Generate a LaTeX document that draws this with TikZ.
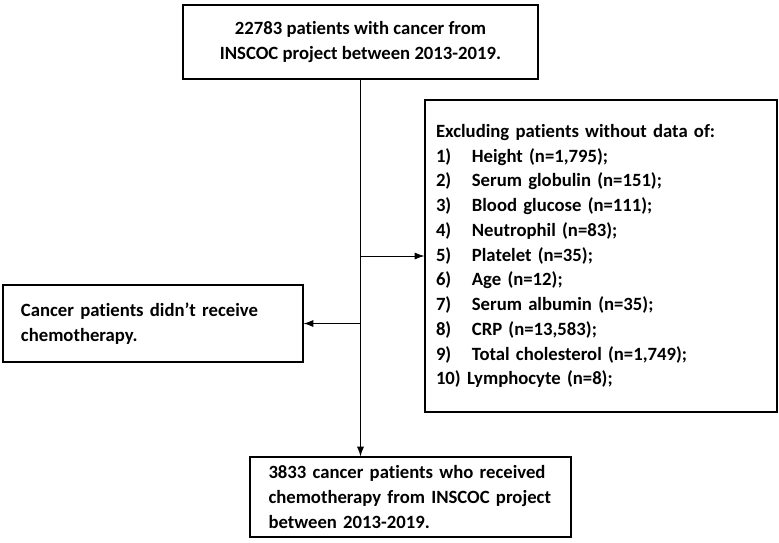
\documentclass[tikz,border=0pt]{standalone}
\usepackage{fontspec}
\setmainfont[Ligatures=NoCommon]{Carlito}
\usetikzlibrary{positioning,arrows.meta}
\tikzset{box/.style={rectangle, draw=black, thick, align=left, inner sep=0pt, anchor=center, font=\bfseries\fontsize{13.3}{17.6}\selectfont},
  line/.style={semithick, -{Latex[length=7pt,width=5pt]}}}
\begin{document}
\begin{tikzpicture}[x=0.025cm,y=-0.025cm]
  \useasboundingbox (0,0) rectangle (779,542);
  \node[box, minimum width=355*0.025cm, minimum height=74*0.025cm, align=center] (top) at (360.5,42) {22783 patients with cancer from\\INSCOC project between 2013-2019.};
  \node[box, minimum width=352*0.025cm, minimum height=312*0.025cm, text width=330*0.025cm] (excl) at (601,256) {Excluding patients without data of:\\
  1)\hspace{1.1em}Height (n=1,795);\\
  2)\hspace{1.1em}Serum globulin (n=151);\\
  3)\hspace{1.1em}Blood glucose (n=111);\\
  4)\hspace{1.1em}Neutrophil (n=83);\\
  5)\hspace{1.1em}Platelet (n=35);\\
  6)\hspace{1.1em}Age (n=12);\\
  7)\hspace{1.1em}Serum albumin (n=35);\\
  8)\hspace{1.1em}CRP (n=13,583);\\
  9)\hspace{1.1em}Total cholesterol (n=1,749);\\
  10) Lymphocyte (n=8);};
  \node[box, minimum width=300*0.025cm, minimum height=77*0.025cm, text width=264*0.025cm] (left) at (153,323.5) {Cancer patients didn't receive\\chemotherapy.};
  \node[box, minimum width=321*0.025cm, minimum height=80*0.025cm, text width=284*0.025cm] (bottom) at (410.5,497) {3833 cancer patients who received\\chemotherapy from INSCOC project\\between 2013-2019.};
  \draw[line] (top.south) -- (top.south |- bottom.north);
  \draw[line] (top.south |- excl.west) -- (excl.west);
  \draw[line] (top.south |- left.east) -- (left.east);
\end{tikzpicture}
\end{document}
